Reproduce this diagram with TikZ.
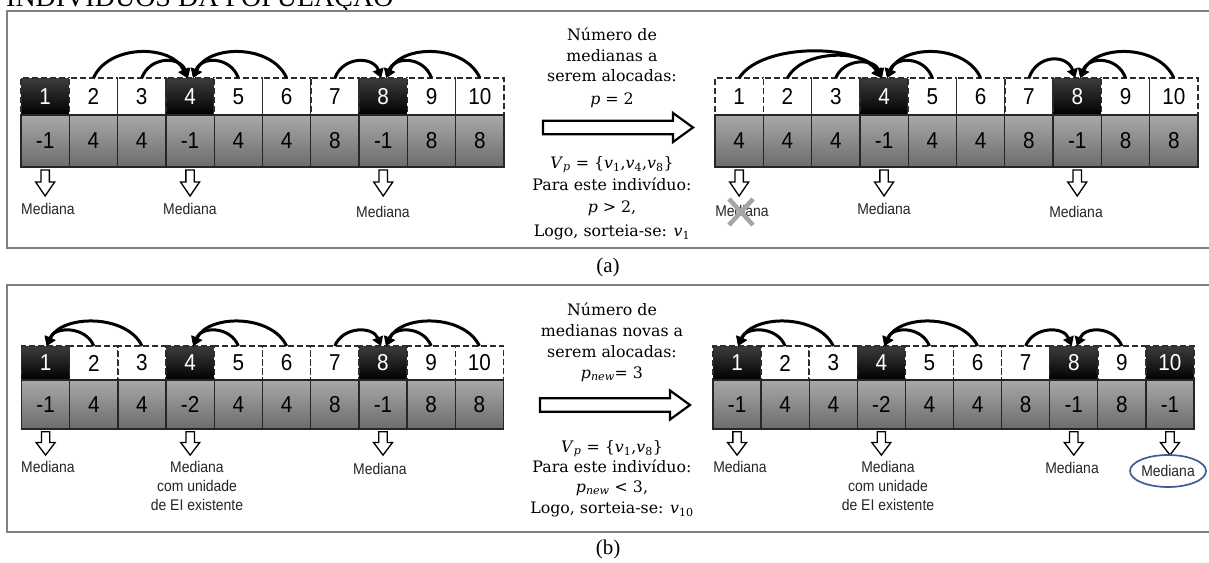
\documentclass[tikz,border=0pt]{standalone}
\usepackage{fontspec}
\usetikzlibrary{arrows.meta,shapes.geometric}
\newfontfamily\sansf[FakeStretch=0.9]{Liberation Sans}
\newfontfamily\serf{DejaVu Serif}
\newfontfamily\timesf{Liberation Serif}
\definecolor{framegray}{RGB}{128,128,128}
\definecolor{dashc}{RGB}{45,45,45}
\definecolor{celltop}{RGB}{168,168,168}
\definecolor{cellbot}{RGB}{108,108,108}
\definecolor{blktop}{RGB}{60,60,60}
\definecolor{ellblue}{RGB}{62,94,150}
\definecolor{crossgray}{RGB}{165,165,165}
\tikzset{
 cellbase/.style={rectangle, inner sep=0pt, outer sep=0pt, anchor=north west, font=\sansf\fontsize{23}{23}\selectfont},
 wcell/.style={cellbase, fill=white, draw=dashc, dash pattern=on 6pt off 3pt, line width=1.5pt, text=black},
 mcell/.style={cellbase, top color=blktop, bottom color=black, draw=dashc, dash pattern=on 6pt off 3pt, line width=1.5pt, text=white},
 vcell/.style={cellbase, top color=celltop, bottom color=cellbot, draw=black!85, line width=1.3pt, text=black},
 arc/.style={line width=3pt, -{Triangle[length=9pt,width=11pt]}},
 harrow/.style={draw=black, line width=1.3pt, fill=white, line join=miter},
 bigarrow/.style={draw=black, line width=2.2pt, fill=white, line join=miter},
 medlabel/.style={font=\sansf\fontsize{15.5}{18.6}\selectfont, inner sep=0pt, align=center, text=black!85},
 midtext/.style={font=\serf\fontsize{15.8}{20}\selectfont, inner sep=0pt, anchor=base},
 frame/.style={draw=framegray, line width=2pt},
 caption/.style={font=\timesf\fontsize{21}{21}\selectfont, inner sep=0pt},
}
\newcommand\cellarray[7]{%
  \foreach \i/\s/\v in {#7} {
    \node[\s, minimum width=#3pt, minimum height=#5pt] (#1t\i) at ({#2+(\i-1)*#3},#4) {\i};
    \node[vcell, minimum width=#3pt, minimum height=#6pt] (#1b\i) at ({#2+(\i-1)*#3},#4+#5) {\v};
  }%
}
\newcommand\downarr[2]{%
  \draw[harrow, shift={(#1.south)}, yscale=#2] (-4.2,3) -- (4.2,3) -- (4.2,15) -- (9.5,15) -- (0,29) -- (-9.5,15) -- (-4.2,15) -- cycle;%
}
\begin{document}
\begin{tikzpicture}[x=1pt,y=-1pt]
\useasboundingbox (0,0) rectangle (1209,562);
\clip (0,0) rectangle (1209,562);
\fill[white] (0,0) rectangle (1209,562);

% title (cut off at the top edge, as in the reference)
\node[anchor=base west, inner sep=0pt, font=\timesf\fontsize{28}{28}\selectfont] (title) at (6,6.5) {INDIVÍDUOS DA POPULAÇÃO};

% frames
\draw[frame] (7,11) rectangle (1240,248);
\draw[frame] (7,285) rectangle (1240,532);
\node[caption] (capa) at (608,267) {(a)};
\node[caption] (capb) at (608,549) {(b)};

% ===== (a) =====
\cellarray{aL}{21}{48.3}{78}{37}{52}{1/mcell/-1,2/wcell/4,3/wcell/4,4/mcell/-1,5/wcell/4,6/wcell/4,7/wcell/8,8/mcell/-1,9/wcell/8,10/wcell/8}
\cellarray{aR}{715}{48.3}{78}{37}{52}{1/wcell/4,2/wcell/4,3/wcell/4,4/mcell/-1,5/wcell/4,6/wcell/4,7/wcell/8,8/mcell/-1,9/wcell/8,10/wcell/8}

% arcs (a) left
\draw[arc] (aLt2.north) .. controls +(15,-34) and +(-15,-34) .. ([xshift=-3pt]aLt4.north);
\draw[arc] (aLt3.north) .. controls +(8,-22) and +(-8,-22) .. ([xshift=-2pt]aLt4.north);
\draw[arc] (aLt5.north) .. controls +(-8,-22) and +(8,-22) .. ([xshift=3pt]aLt4.north);
\draw[arc] (aLt6.north) .. controls +(-15,-34) and +(15,-34) .. ([xshift=3pt]aLt4.north);
\draw[arc] (aLt7.north) .. controls +(8,-22) and +(-8,-22) .. ([xshift=-2pt]aLt8.north);
\draw[arc] (aLt9.north) .. controls +(-8,-22) and +(8,-22) .. ([xshift=3pt]aLt8.north);
\draw[arc] (aLt10.north) .. controls +(-15,-34) and +(15,-34) .. ([xshift=3pt]aLt8.north);

% arcs (a) right
\draw[arc] (aRt1.north) .. controls +(22,-35) and +(-22,-35) .. ([xshift=-3pt]aRt4.north);
\draw[arc] (aRt2.north) .. controls +(15,-29) and +(-15,-29) .. ([xshift=-3pt]aRt4.north);
\draw[arc] (aRt3.north) .. controls +(8,-20) and +(-8,-20) .. ([xshift=-2pt]aRt4.north);
\draw[arc] (aRt5.north) .. controls +(-8,-22) and +(8,-22) .. ([xshift=3pt]aRt4.north);
\draw[arc] (aRt6.north) .. controls +(-15,-34) and +(15,-34) .. ([xshift=3pt]aRt4.north);
\draw[arc] (aRt7.north) .. controls +(8,-24) and +(-8,-24) .. ([xshift=-2pt]aRt8.north);
\draw[arc] (aRt9.north) .. controls +(-8,-22) and +(8,-22) .. ([xshift=3pt]aRt8.north);
\draw[arc] (aRt10.north) .. controls +(-15,-34) and +(15,-34) .. ([xshift=3pt]aRt8.north);

% down arrows (a)
\downarr{aLb1}{1} \downarr{aLb4}{1} \downarr{aLb8}{1}
\downarr{aRb1}{1} \downarr{aRb4}{1} \downarr{aRb8}{1}
\node[medlabel] (aLm1) at (48,209) {Mediana};
\node[medlabel] (aLm4) at (190,209) {Mediana};
\node[medlabel] (aLm8) at (383,212) {Mediana};
\node[medlabel] (aRm1) at (742,211) {Mediana};
\node[medlabel] (aRm4) at (884,209) {Mediana};
\node[medlabel] (aRm8) at (1076,212) {Mediana};
\draw[crossgray, line width=4.5pt] (729,199) -- (753,225) (753,199) -- (729,225);

% middle text (a)
\node[midtext] (a1) at (612,40) {Número de};
\node[midtext] (a2) at (612,61) {medianas a};
\node[midtext] (a3) at (612,81) {serem alocadas:};
\node[midtext] (a4) at (612,104) {\textit{p} = 2};
\coordinate (arA) at (543,127.5);
\draw[bigarrow, shift={(arA)}] (0,-6.8) -- (130,-6.8) -- (130,-14.5) -- (150,0) -- (130,14.5) -- (130,6.8) -- (0,6.8) -- cycle;
\node[midtext] (a5) at (612,168) {\textit{V}\textsubscript{\textit{p}} = \{\textit{v}\textsubscript{1},\textit{v}\textsubscript{4},\textit{v}\textsubscript{8}\}};
\node[midtext] (a6) at (612,190) {Para este indivíduo:};
\node[midtext] (a7) at (612,212) {\textit{p} > 2,};
\node[midtext] (a8) at (612,236) {Logo, sorteia-se: \textit{v}\textsubscript{1}};

% ===== (b) =====
\cellarray{bL}{21.5}{48.2}{346}{34}{49}{1/mcell/-1,2/wcell/4,3/wcell/4,4/mcell/-2,5/wcell/4,6/wcell/4,7/wcell/8,8/mcell/-1,9/wcell/8,10/wcell/8}
\cellarray{bR}{713}{48.1}{346}{34}{49}{1/mcell/-1,2/wcell/4,3/wcell/4,4/mcell/-2,5/wcell/4,6/wcell/4,7/wcell/8,8/mcell/-1,9/wcell/8,10/mcell/-1}

% arcs (b) left
\draw[arc] (bLt2.north) .. controls +(-8,-20) and +(8,-20) .. ([xshift=1pt]bLt1.north);
\draw[arc] (bLt3.north) .. controls +(-15,-32) and +(15,-32) .. ([xshift=1pt]bLt1.north);
\draw[arc] (bLt5.north) .. controls +(-8,-20) and +(8,-20) .. ([xshift=3pt]bLt4.north);
\draw[arc] (bLt6.north) .. controls +(-15,-32) and +(15,-32) .. ([xshift=3pt]bLt4.north);
\draw[arc] (bLt7.north) .. controls +(8,-20) and +(-8,-20) .. ([xshift=-2pt]bLt8.north);
\draw[arc] (bLt9.north) .. controls +(-8,-20) and +(8,-20) .. ([xshift=3pt]bLt8.north);
\draw[arc] (bLt10.north) .. controls +(-15,-32) and +(15,-32) .. ([xshift=3pt]bLt8.north);

% arcs (b) right
\draw[arc] (bRt2.north) .. controls +(-8,-20) and +(8,-20) .. ([xshift=1pt]bRt1.north);
\draw[arc] (bRt3.north) .. controls +(-15,-32) and +(15,-32) .. ([xshift=1pt]bRt1.north);
\draw[arc] (bRt5.north) .. controls +(-8,-20) and +(8,-20) .. ([xshift=3pt]bRt4.north);
\draw[arc] (bRt6.north) .. controls +(-15,-32) and +(15,-32) .. ([xshift=3pt]bRt4.north);
\draw[arc] (bRt7.north) .. controls +(8,-20) and +(-8,-20) .. ([xshift=-2pt]bRt8.north);
\draw[arc] (bRt9.north) .. controls +(-8,-20) and +(8,-20) .. ([xshift=3pt]bRt8.north);

% down arrows (b)
\downarr{bLb1}{0.9} \downarr{bLb4}{0.9} \downarr{bLb8}{0.9}
\downarr{bRb1}{0.9} \downarr{bRb4}{0.9} \downarr{bRb8}{0.9} \downarr{bRb10}{0.9}
\node[medlabel] (bLm1) at (48,467) {Mediana};
\node[medlabel] (bLm4) at (197,486) {Mediana\\com unidade\\de EI existente};
\node[medlabel] (bLm8) at (380,469) {Mediana};
\node[medlabel] (bRm1) at (740,467) {Mediana};
\node[medlabel] (bRm4) at (888,486) {Mediana\\com unidade\\de EI existente};
\node[medlabel] (bRm8) at (1072,468) {Mediana};
\node[medlabel, draw=ellblue, line width=1.7pt, ellipse, minimum width=76pt, minimum height=32pt] (bRm10) at (1168,471) {Mediana};

% middle text (b)
\node[midtext] (b1) at (612,315) {Número de};
\node[midtext] (b2) at (612,336) {medianas novas a};
\node[midtext] (b3) at (612,357) {serem alocadas:};
\node[midtext] (b4) at (612,378) {\textit{p}\textsubscript{\textit{new}}= 3};
\coordinate (arB) at (540,405);
\draw[bigarrow, shift={(arB)}] (0,-6.8) -- (130,-6.8) -- (130,-14.5) -- (150,0) -- (130,14.5) -- (130,6.8) -- (0,6.8) -- cycle;
\node[midtext] (b5) at (612,452) {\textit{V}\textsubscript{\textit{p}} = \{\textit{v}\textsubscript{1},\textit{v}\textsubscript{8}\}};
\node[midtext] (b6) at (612,472) {Para este indivíduo:};
\node[midtext] (b7) at (612,492) {\textit{p}\textsubscript{\textit{new}} < 3,};
\node[midtext] (b8) at (612,513) {Logo, sorteia-se: \textit{v}\textsubscript{10}};
\end{tikzpicture}
\end{document}
